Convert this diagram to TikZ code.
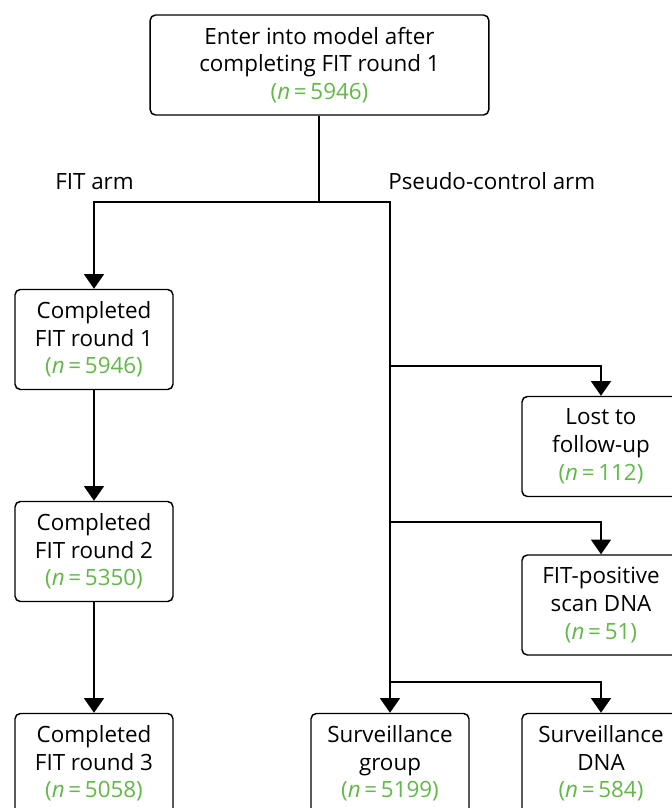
\documentclass[tikz,border=0pt]{standalone}
\usepackage{fontspec}
\setmainfont{Open Sans}
\usepackage{tikz}
\usetikzlibrary{arrows.meta,positioning}
\definecolor{fitgreen}{RGB}{98,185,72}
\newcommand{\ncount}[1]{\textcolor{fitgreen}{(\textit{n}\,=\,#1)}}
\tikzset{
    flowbox/.style={draw, rounded corners=4pt, line width=1.1pt, fill=white, align=center, font=\fontsize{16.8}{20.8}\selectfont, minimum width=118.5pt, minimum height=75pt, inner sep=1pt},
    flowwide/.style={flowbox, minimum width=254pt},
    flowarrow/.style={-{Triangle[length=11pt,width=15pt]}, line width=1.1pt},
    flowline/.style={line width=1.1pt},
    armlabel/.style={font=\fontsize{16.8}{20.8}\selectfont, anchor=base west, inner sep=0pt}
}
\begin{document}
\begin{tikzpicture}[x=0.75pt, y=-0.75pt]
        \clip (0,0) rectangle (672,808);
        \useasboundingbox (0,0) rectangle (672,808);

        \node[flowwide] (enter) at (319.5,65) {Enter into model after\\completing FIT round 1\\\ncount{5946}};

        \node[flowbox] (fit1) at (94,339.5) {Completed\\FIT round 1\\\ncount{5946}};
        \node[flowbox] (fit2) at (94,551.5) {Completed\\FIT round 2\\\ncount{5350}};
        \node[flowbox] (fit3) at (94,763.5) {Completed\\FIT round 3\\\ncount{5058}};

        \node[flowbox] (lost) at (601,446.5) {Lost to\\follow-up\\\ncount{112}};
        \node[flowbox] (scan) at (601,605) {FIT-positive\\scan DNA\\\ncount{51}};
        \node[flowbox] (survgrp) at (390,763.5) {Surveillance\\group\\\ncount{5199}};
        \node[flowbox] (survdna) at (601,763.5) {Surveillance\\DNA\\\ncount{584}};

        \node[armlabel] (fitarm) at (55,189) {FIT arm};
        \node[armlabel] (ctlarm) at (388,189) {Pseudo-control arm};

        \coordinate (split) at (319,202);
        \coordinate (br1) at (390,366);
        \coordinate (br2) at (390,522);
        \coordinate (br3) at (390,682);

        \draw[flowline] (enter.south -| split) -- (split);
        \draw[flowarrow] (split) -| (fit1);
        \draw[flowarrow] (split) -| (survgrp);
        \draw[flowarrow] (fit1) -- (fit2);
        \draw[flowarrow] (fit2) -- (fit3);
        \draw[flowarrow] (br1) -| (lost);
        \draw[flowarrow] (br2) -| (scan);
        \draw[flowarrow] (br3) -| (survdna);
    \end{tikzpicture}
\end{document}
